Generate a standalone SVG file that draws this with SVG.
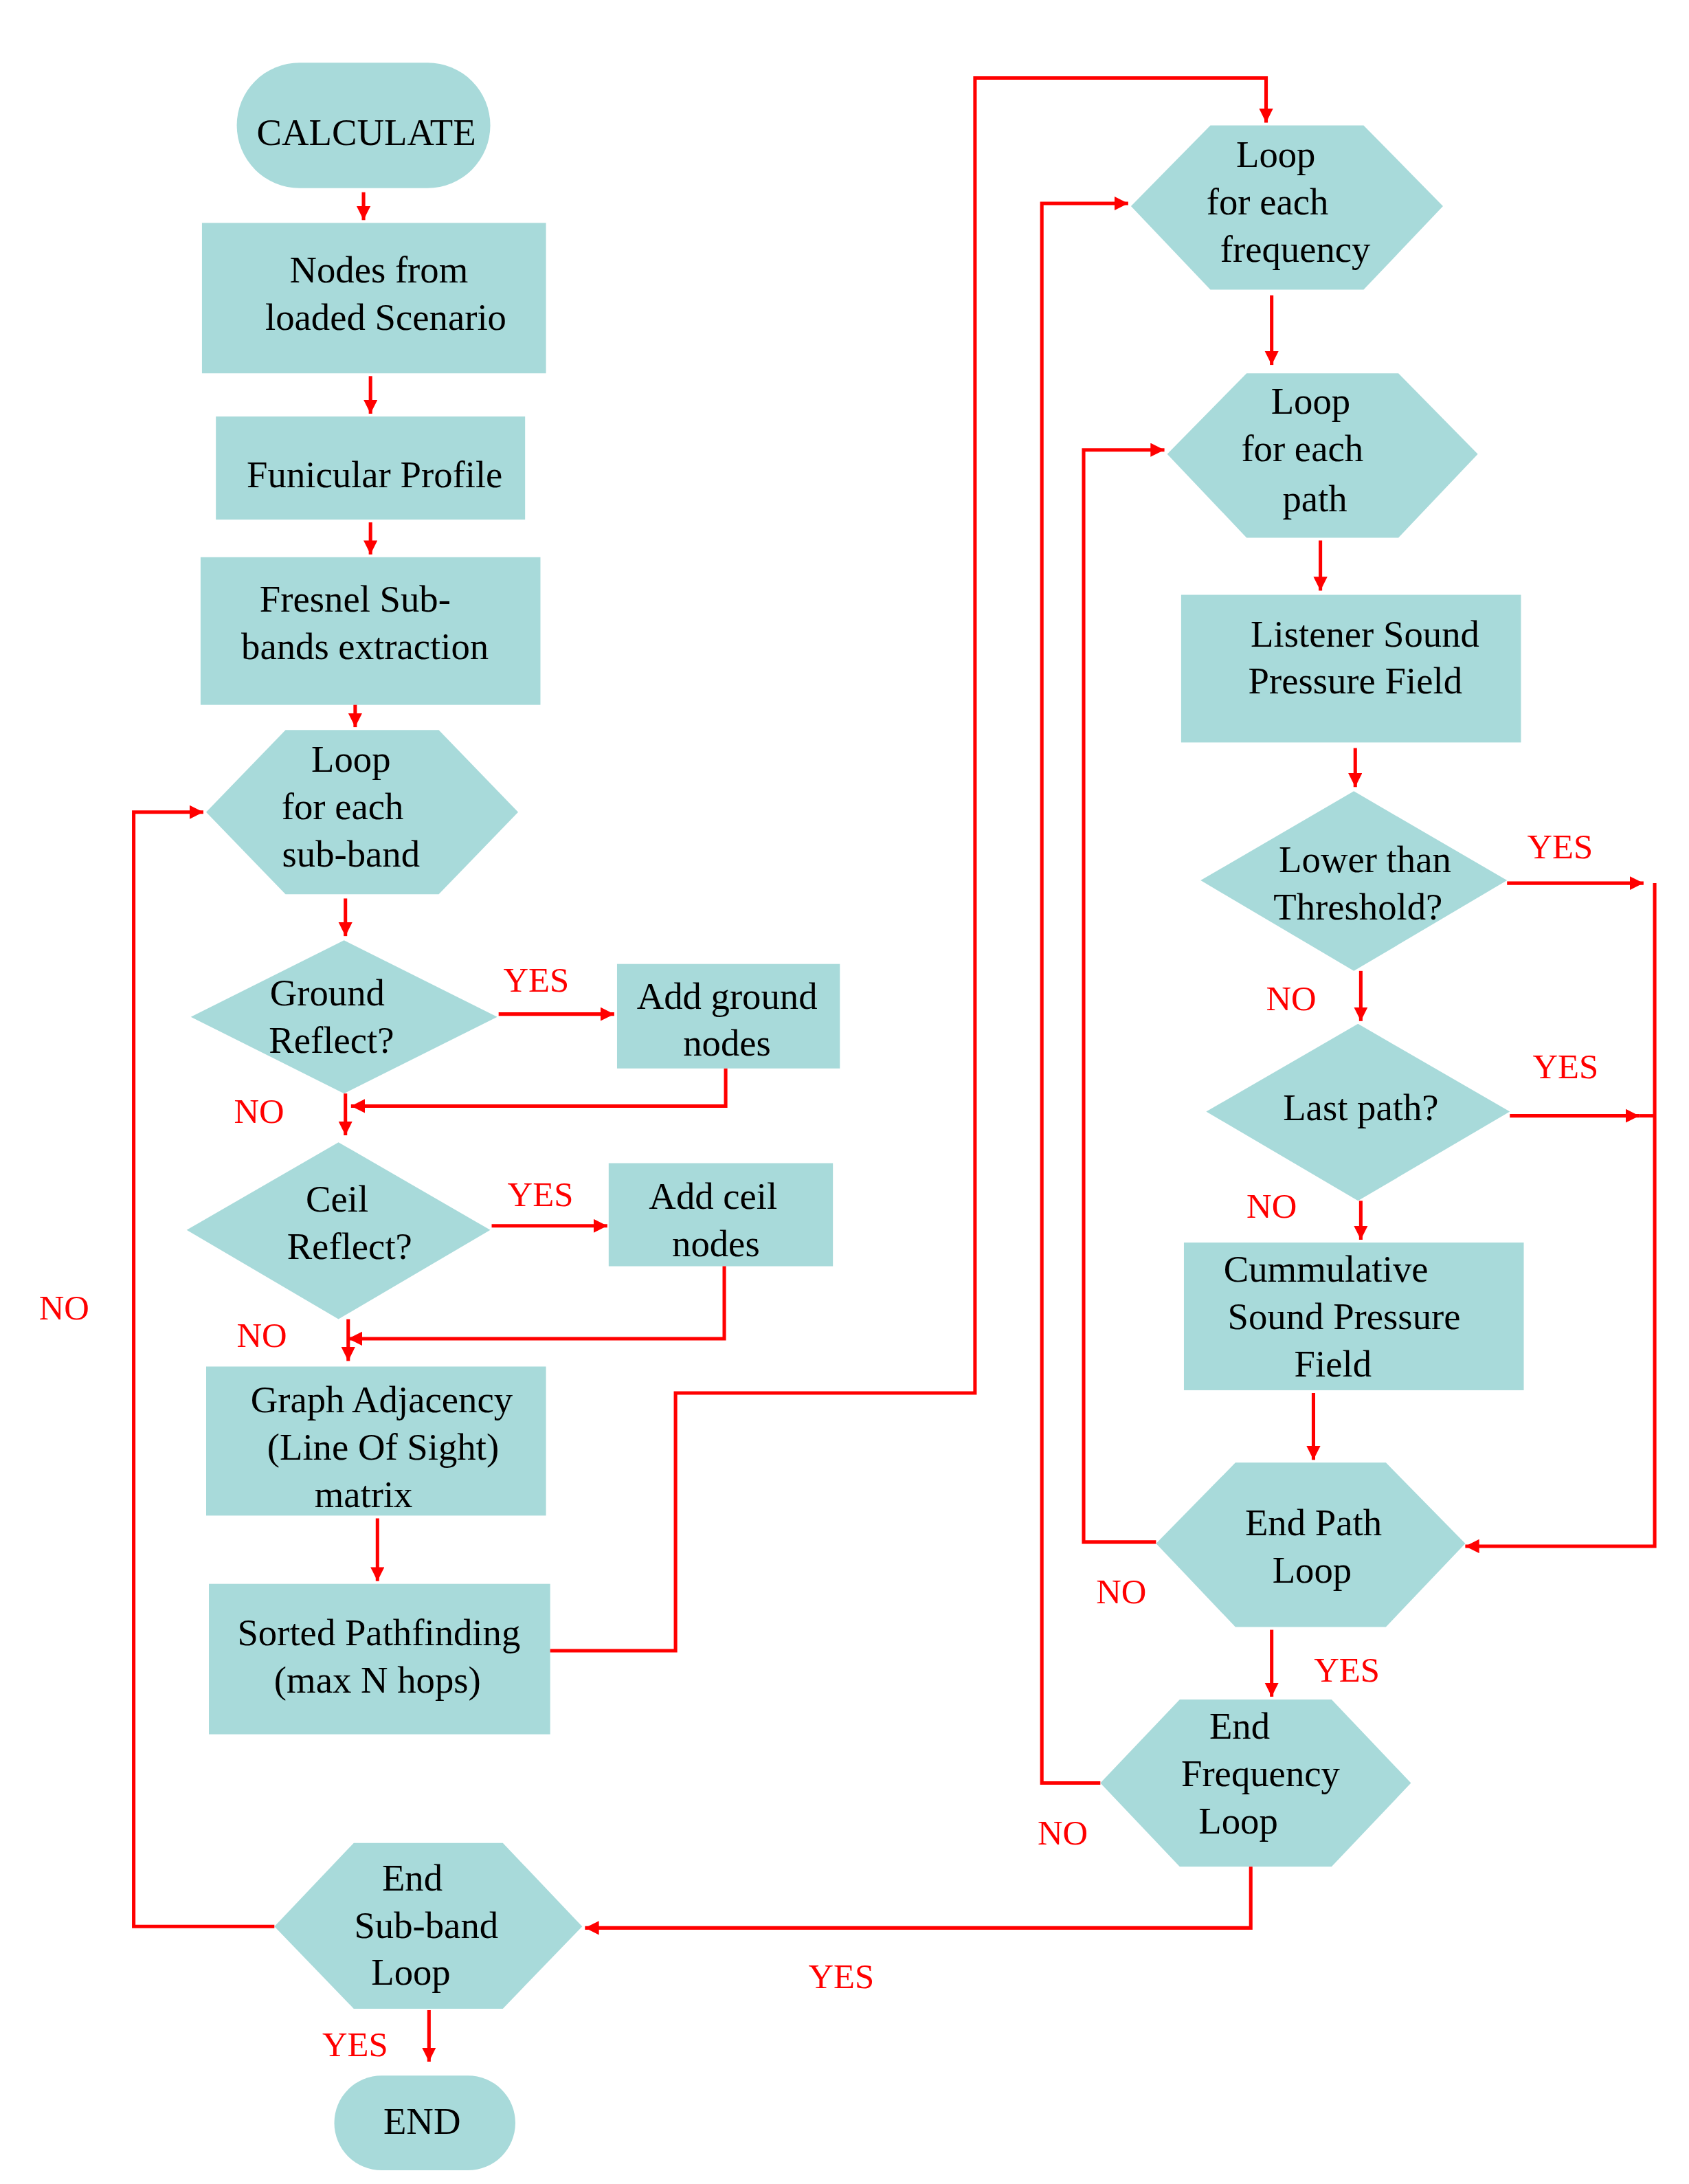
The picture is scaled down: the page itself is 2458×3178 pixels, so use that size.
<svg xmlns="http://www.w3.org/2000/svg" width="2458" height="3178" viewBox="0 0 2458 3178">
<style>
.n{fill:#a8dada;stroke:none}
.t{font-family:"Liberation Serif",serif;font-size:27px;fill:#000;text-anchor:middle}
.l{font-family:"Liberation Serif",serif;font-size:25px;fill:#ff0000;text-anchor:middle}
.c{fill:none;stroke:#ff0000;stroke-width:2.5}
</style>
<defs><marker id="a" markerUnits="userSpaceOnUse" markerWidth="12" markerHeight="12" refX="10" refY="5" orient="auto"><path d="M0,0L10,5L0,10z" fill="#ff0000"/></marker></defs>
<rect width="2458" height="3178" fill="#fff"/>
<g transform="scale(2.027)">
<g id="calc"><rect class="n" x="170" y="45" width="182" height="90" rx="45"/><text class="t" x="263" y="104">CALCULATE</text></g>
<g id="nodes"><rect class="n" x="145" y="160" width="247" height="108"/><text class="t" x="272" y="203">Nodes from</text><text class="t" x="277" y="237">loaded Scenario</text></g>
<g id="funi"><rect class="n" x="155" y="299" width="222" height="74"/><text class="t" x="269" y="350">Funicular Profile</text></g>
<g id="fresnel"><rect class="n" x="144" y="400" width="244" height="106"/><text class="t" x="255" y="439">Fresnel Sub-</text><text class="t" x="262" y="473">bands extraction</text></g>
<g id="loopsb"><polygon class="n" points="148,583 205,524 315,524 372,583 315,642 205,642"/><text class="t" x="252" y="554">Loop</text><text class="t" x="246" y="588">for each</text><text class="t" x="252" y="622">sub-band</text></g>
<g id="ground"><polygon class="n" points="137,730 247,675 357,730 247,785"/><text class="t" x="235" y="722">Ground</text><text class="t" x="238" y="756">Reflect?</text></g>
<g id="addg"><rect class="n" x="443" y="692" width="160" height="75"/><text class="t" x="522" y="724">Add ground</text><text class="t" x="522" y="758">nodes</text></g>
<g id="ceil"><polygon class="n" points="134,883 243,820 352,883 243,947"/><text class="t" x="242" y="870">Ceil</text><text class="t" x="251" y="904">Reflect?</text></g>
<g id="addc"><rect class="n" x="437" y="835" width="161" height="74"/><text class="t" x="512" y="868">Add ceil</text><text class="t" x="514" y="902">nodes</text></g>
<g id="graph"><rect class="n" x="148" y="981" width="244" height="107"/><text class="t" x="274" y="1014">Graph Adjacency</text><text class="t" x="275" y="1048">(Line Of Sight)</text><text class="t" x="261" y="1082">matrix</text></g>
<g id="sorted"><rect class="n" x="150" y="1137" width="245" height="108"/><text class="t" x="272" y="1181">Sorted Pathfinding</text><text class="t" x="271" y="1215">(max N hops)</text></g>
<g id="loopf"><polygon class="n" points="812,148 869,90 979,90 1036,148 979,208 869,208"/><text class="t" x="916" y="120">Loop</text><text class="t" x="910" y="154">for each</text><text class="t" x="930" y="188">frequency</text></g>
<g id="loopp"><polygon class="n" points="838,326 895,268 1004,268 1061,326 1004,386 895,386"/><text class="t" x="941" y="297">Loop</text><text class="t" x="935" y="331">for each</text><text class="t" x="944" y="367">path</text></g>
<g id="listener"><rect class="n" x="848" y="427" width="244" height="106"/><text class="t" x="980" y="464">Listener Sound</text><text class="t" x="973" y="498">Pressure Field</text></g>
<g id="lower"><polygon class="n" points="862,632 972,568 1082,632 972,697"/><text class="t" x="980" y="626">Lower than</text><text class="t" x="975" y="660">Threshold?</text></g>
<g id="last"><polygon class="n" points="866,798 975,735 1084,798 975,862"/><text class="t" x="977" y="804">Last path?</text></g>
<g id="cumm"><rect class="n" x="850" y="892" width="244" height="106"/><text class="t" x="952" y="920">Cummulative</text><text class="t" x="965" y="954">Sound Pressure</text><text class="t" x="957" y="988">Field</text></g>
<g id="endp"><polygon class="n" points="830,1108 887,1050 995,1050 1052,1108 995,1168 887,1168"/><text class="t" x="943" y="1102">End Path</text><text class="t" x="942" y="1136">Loop</text></g>
<g id="endf"><polygon class="n" points="790,1280 847,1220 956,1220 1013,1280 956,1340 847,1340"/><text class="t" x="890" y="1248">End</text><text class="t" x="905" y="1282">Frequency</text><text class="t" x="889" y="1316">Loop</text></g>
<g id="endsb"><polygon class="n" points="197,1383 254,1323 361,1323 418,1383 361,1442 254,1442"/><text class="t" x="296" y="1357">End</text><text class="t" x="306" y="1391">Sub-band</text><text class="t" x="295" y="1425">Loop</text></g>
<g id="end"><rect class="n" x="240" y="1490" width="130" height="68" rx="34"/><text class="t" x="303" y="1532">END</text></g>
<g id="connectors">
<path class="c" marker-end="url(#a)" d="M261,138V158"/>
<path class="c" marker-end="url(#a)" d="M266,270V297"/>
<path class="c" marker-end="url(#a)" d="M266,375V398"/>
<path class="c" marker-end="url(#a)" d="M255,506V522"/>
<path class="c" marker-end="url(#a)" d="M248,645V672"/>
<path class="c" marker-end="url(#a)" d="M358,728H441"/>
<path class="c" marker-end="url(#a)" d="M521,767V794H252"/>
<path class="c" marker-end="url(#a)" d="M248,785V815"/>
<path class="c" marker-end="url(#a)" d="M353,880H436"/>
<path class="c" marker-end="url(#a)" d="M520,909V961H250"/>
<path class="c" marker-end="url(#a)" d="M250,947V977"/>
<path class="c" marker-end="url(#a)" d="M271,1090V1135"/>
<path class="c" marker-end="url(#a)" d="M395,1185H485V1000H700V56H909V88"/>
<path class="c" marker-end="url(#a)" d="M790,1280H748V146H810"/>
<path class="c" marker-end="url(#a)" d="M913,212V262"/>
<path class="c" marker-end="url(#a)" d="M830,1107H778V323H836"/>
<path class="c" marker-end="url(#a)" d="M948,388V424"/>
<path class="c" marker-end="url(#a)" d="M973,537V565"/>
<path class="c" marker-end="url(#a)" d="M1082,634H1180"/>
<path class="c" marker-end="url(#a)" d="M1188,634V1110H1052"/>
<path class="c" marker-end="url(#a)" d="M977,697V733"/>
<path class="c" marker-end="url(#a)" d="M1084,801H1177"/>
<path class="c" d="M1177,801H1188"/>
<path class="c" marker-end="url(#a)" d="M977,862V890"/>
<path class="c" marker-end="url(#a)" d="M943,1000V1048"/>
<path class="c" marker-end="url(#a)" d="M913,1170V1218"/>
<path class="c" marker-end="url(#a)" d="M898,1340V1384H420"/>
<path class="c" marker-end="url(#a)" d="M197,1383H96V583H146"/>
<path class="c" marker-end="url(#a)" d="M308,1443V1480"/>
</g>
<g id="labels">
<text class="l" x="385" y="712">YES</text><text class="l" x="186" y="806">NO</text>
<text class="l" x="388" y="866">YES</text><text class="l" x="188" y="967">NO</text>
<text class="l" x="46" y="947">NO</text>
<text class="l" x="1120" y="616">YES</text><text class="l" x="927" y="725">NO</text>
<text class="l" x="1124" y="774">YES</text><text class="l" x="913" y="874">NO</text>
<text class="l" x="805" y="1151">NO</text><text class="l" x="967" y="1207">YES</text>
<text class="l" x="763" y="1324">NO</text><text class="l" x="604" y="1427">YES</text>
<text class="l" x="255" y="1476">YES</text>
</g>
</g>
</svg>
